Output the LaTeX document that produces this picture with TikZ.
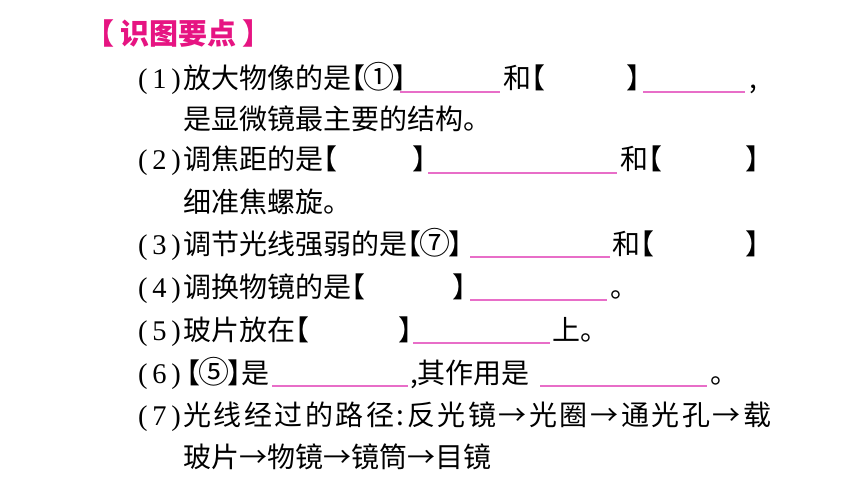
\documentclass[tikz,border=0pt]{standalone}
\usepackage{fontspec}
\newfontfamily\cjk{Noto Sans CJK SC}
\newfontfamily\cjkhalf[RawFeature=+halt]{Noto Sans CJK SC}
\newfontfamily\serifnum{Liberation Serif}
\definecolor{headpink}{RGB}{230,20,130}
\definecolor{linepink}{RGB}{232,110,200}
\newcommand{\lbk}{{\cjkhalf 【}}
\newcommand{\rbk}{{\cjkhalf 】}}
\newcommand{\circnum}[1]{\kern-2pt{\fontsize{31pt}{30pt}\selectfont #1}\kern-2pt}
\begin{document}
\begin{tikzpicture}[x=1pt, y=-1pt,
    txt/.style={anchor=base west, inner sep=0pt, font=\cjk\fontsize{28pt}{30pt}\selectfont},
    num/.style={anchor=base west, inner sep=0pt, font=\serifnum\fontsize{28.5pt}{30pt}\selectfont},
    blank/.style={draw=linepink, line width=1.2pt}]
        \useasboundingbox (0, 0) rectangle (860, 484);

        \node[txt, text=headpink, font=\cjk\bfseries\fontsize{29pt}{30pt}\selectfont] (head) at (100, 45) {\lbk\kern6pt 识图要点\kern6pt\rbk};

        \node[num] (n1) at (138, 89) {(\,1\,)};
        \node[txt] (l1a) at (183, 89) {放大物像的是\lbk\circnum{①}\rbk};
        \draw[blank] (400, 92) -- (500, 92);
        \node[txt] (l1b) at (503, 89) {和\lbk};
        \node[txt] (l1c) at (626, 89) {\rbk};
        \draw[blank] (643, 92) -- (745, 92);
        \node[txt] (l1d) at (749, 89) {,};
        \node[txt] (l1e) at (183, 130) {是显微镜最主要的结构。};

        \node[num] (n2) at (138, 170) {(\,2\,)};
        \node[txt] (l2a) at (183, 170) {调焦距的是\lbk};
        \node[txt] (l2b) at (412, 170) {\rbk};
        \draw[blank] (428, 173) -- (617, 173);
        \node[txt] (l2c) at (620, 170) {和\lbk};
        \node[txt] (l2d) at (745, 170) {\rbk};
        \node[txt] (l2e) at (183, 212) {细准焦螺旋。};

        \node[num] (n3) at (138, 254) {(\,3\,)};
        \node[txt] (l3a) at (183, 254) {调节光线强弱的是\lbk\circnum{⑦}\rbk};
        \draw[blank] (470, 257) -- (610, 257);
        \node[txt] (l3b) at (612, 254) {和\lbk};
        \node[txt] (l3c) at (745, 254) {\rbk};

        \node[num] (n4) at (138, 297) {(\,4\,)};
        \node[txt] (l4a) at (183, 297) {调换物镜的是\lbk};
        \node[txt] (l4b) at (452, 297) {\rbk};
        \draw[blank] (470, 300) -- (607, 300);
        \node[txt] (l4c) at (610, 297) {。};

        \node[num] (n5) at (138, 340) {(\,5\,)};
        \node[txt] (l5a) at (183, 340) {玻片放在\lbk};
        \node[txt] (l5b) at (398, 340) {\rbk};
        \draw[blank] (413, 343) -- (550, 343);
        \node[txt] (l5c) at (552, 340) {上。};

        \node[num] (n6) at (138, 383) {(\,6\,)};
        \node[txt] (l6a) at (186, 383) {\lbk\circnum{⑤}\rbk 是};
        \draw[blank] (272, 386) -- (408, 386);
        \node[txt] (l6b) at (410, 383) {,其作用是};
        \draw[blank] (540, 386) -- (707, 386);
        \node[txt] (l6c) at (710, 383) {。};

        \node[num] (n7) at (138, 425) {(\,7\,)};
        \node[txt] (l7a) at (183, 425) {\makebox[588pt][s]{光\hfil 线\hfil 经\hfil 过\hfil 的\hfil 路\hfil 径\hfil :\hfil 反\hfil 光\hfil 镜\hfil →\hfil 光\hfil 圈\hfil →\hfil 通\hfil 光\hfil 孔\hfil →\hfil 载}};
        \node[txt] (l7b) at (183, 467) {玻片→物镜→镜筒→目镜};
\end{tikzpicture}
\end{document}
